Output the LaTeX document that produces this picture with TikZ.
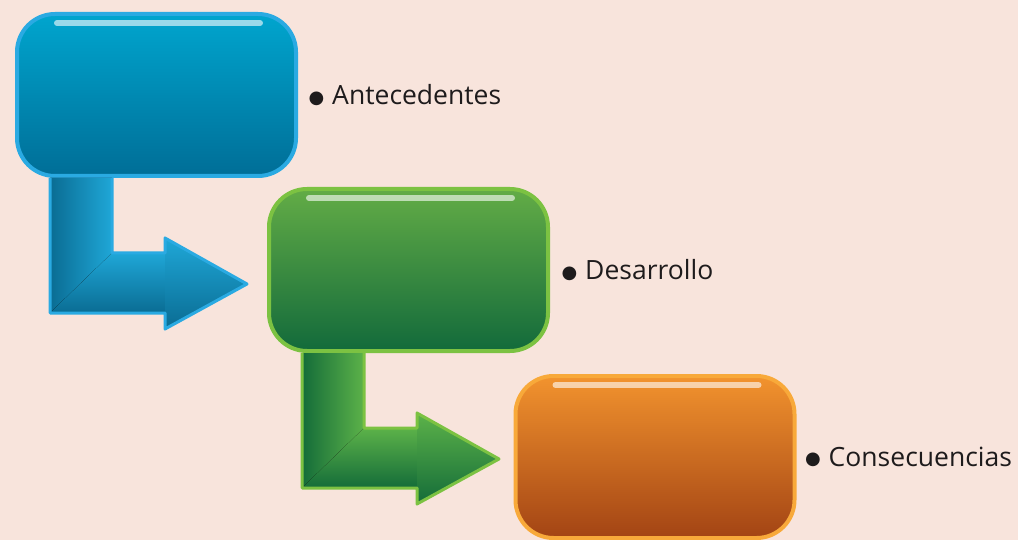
\documentclass[tikz,border=0pt]{standalone}
\usepackage{fontspec}
\setmainfont{Open Sans}
\newfontfamily\dotfont{DejaVu Sans}
\usetikzlibrary{positioning,calc}

\definecolor{bgpeach}{HTML}{F8E4DC}
\definecolor{inkgray}{HTML}{1E1B1C}
\definecolor{blueline}{HTML}{2AAAE2}
\definecolor{bluetop}{HTML}{00A5CE}
\definecolor{bluemid}{HTML}{0092BC}
\definecolor{bluebot}{HTML}{006E97}
\definecolor{bluelight}{HTML}{1FA7D7}
\definecolor{bluedark}{HTML}{0A6C93}
\definecolor{greenline}{HTML}{7CC242}
\definecolor{greentop}{HTML}{63AC46}
\definecolor{greenmid}{HTML}{3E8E40}
\definecolor{greenbot}{HTML}{126A3B}
\definecolor{greenlight}{HTML}{5CB249}
\definecolor{greendark}{HTML}{146C39}
\definecolor{orangeline}{HTML}{F8A93A}
\definecolor{orangetop}{HTML}{F2932E}
\definecolor{orangemid}{HTML}{D06E22}
\definecolor{orangebot}{HTML}{A34414}

\tikzset{
  stagebox/.style={draw, line width=4pt, rounded corners=38pt,
    minimum width=279pt, minimum height=162pt},
  bluebox/.style={stagebox, draw=blueline, top color=bluetop, middle color=bluemid, bottom color=bluebot},
  greenbox/.style={stagebox, draw=greenline, top color=greentop, middle color=greenmid, bottom color=greenbot},
  orangebox/.style={stagebox, draw=orangeline, top color=orangetop, middle color=orangemid, bottom color=orangebot},
  shine/.style={line width=6pt, line cap=round, white, opacity=.6},
  itemtext/.style={text=inkgray, font=\fontsize{26.5}{32}\selectfont, anchor=west},
}

% round black dot in front of each item
\newcommand{\dotmark}{\raisebox{1.5pt}{\dotfont\fontsize{18}{18}\selectfont ●}\hspace{8pt}}

% L-shaped arrow hanging from the bottom of a box
\newcommand{\flowarrow}[2]{%
  \begin{scope}[shift={(#1.south west)}]
    \fill[left color=#2dark, right color=#2light] (35,0) -- (97,0) -- (97,75) -- (35,135) -- cycle;
    \fill[top color=#2light, bottom color=#2dark] (35,135) -- (97,75) -- (151,75) -- (151,135) -- cycle;
    \fill[top color=#2light, bottom color=#2dark] (150,60) -- (232,106) -- (150,151) -- cycle;
    \draw[#2line, line width=3pt, line join=round]
      (97,0) -- (97,75) -- (150,75) -- (150,60) -- (232,106) -- (150,151) -- (150,135) -- (35,135) -- (35,0);
  \end{scope}
}

\begin{document}
\begin{tikzpicture}[x=1pt, y=-1pt]
  \fill[bgpeach] (0,0) rectangle (1018,540);
  \useasboundingbox (0,0) rectangle (1018,540);

  \node[bluebox] (b1) at (156.5,95) {};
  \node[greenbox] (b2) at (408.5,270) {};
  \node[orangebox] (b3) at (655,457) {};

  \draw[shine] ($(b1.north west)+(42,11)$) -- ($(b1.north east)+(-38,11)$);
  \draw[shine] ($(b2.north west)+(42,11)$) -- ($(b2.north east)+(-38,11)$);
  \draw[shine] ($(b3.north west)+(42,11)$) -- ($(b3.north east)+(-38,11)$);

  \flowarrow{b1}{blue}
  \flowarrow{b2}{green}

  \node[itemtext, right=7pt of b1] (t1) {\dotmark Antecedentes};
  \node[itemtext, right=8pt of b2] (t2) {\dotmark Desarrollo};
  \node[itemtext, right=5pt of b3] (t3) {\dotmark Consecuencias};
\end{tikzpicture}
\end{document}
